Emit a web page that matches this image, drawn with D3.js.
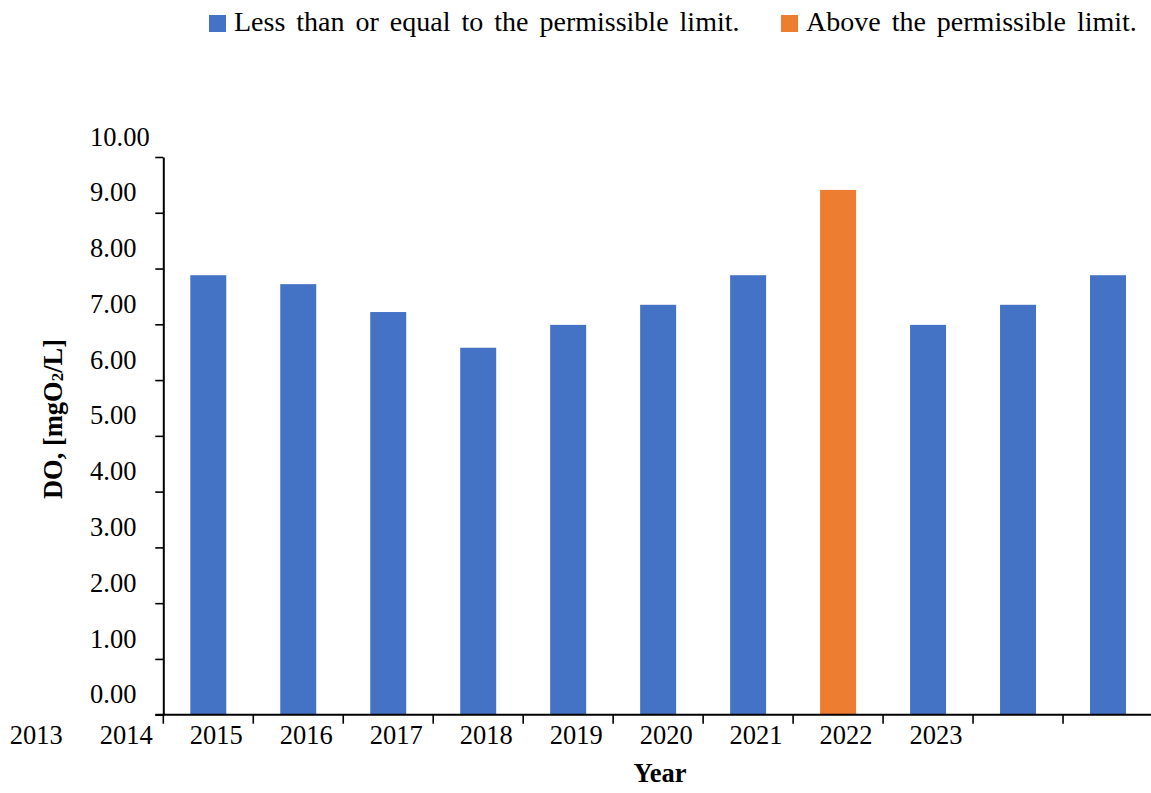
<!DOCTYPE html>
<html>
<head>
<meta charset="utf-8">
<script src="https://cdn.jsdelivr.net/npm/d3@7/dist/d3.min.js"></script>
<style>
  html, body { margin: 0; padding: 0; background: #fff; }
  svg { display: block; }
  text { font-family: "Liberation Serif", "DejaVu Serif", serif; fill: #000; }
</style>
</head>
<body>
<svg id="chart" width="1151" height="793"></svg>
<script>
// Dissolved oxygen per year (mg O2/L)
const years = ["2013", "2014", "2015", "2016", "2017", "2018", "2019", "2020", "2021", "2022", "2023"];
const doValues = [7.88, 7.72, 7.22, 6.58, 6.99, 7.35, 7.88, 9.41, 6.99, 7.35, 7.88];
const aboveLimit = [false, false, false, false, false, false, false, true, false, false, false];

// Axis tick labels
const yearTickLabels = ["2013", "2014", "2015", "2016", "2017", "2018", "2019", "2020", "2021", "2022", "2023"];
const yTickValues = [0, 1, 2, 3, 4, 5, 6, 7, 8, 9, 10];

// Legend
const legendLabels = ["Less than or equal to the permissible limit.", "Above the permissible limit."];
const legendColors = ["#4472C4", "#ED7D31"];

const svg = d3.select("#chart");
const plotLeft = 163.3, plotRight = 1153, plotTop = 157, plotBottom = 714.7;

const x = d3.scaleBand().domain(years).range([plotLeft, plotRight]).paddingInner(0.6).paddingOuter(0.3);
const y = d3.scaleLinear().domain([0, 10]).range([plotBottom, plotTop]);
const bw = x.step();

// Bars
svg.append("g").selectAll("rect")
  .data(years)
  .join("rect")
  .attr("x", d => x(d))
  .attr("width", x.bandwidth())
  .attr("y", (d, i) => y(doValues[i]))
  .attr("height", (d, i) => y(0) - y(doValues[i]))
  .attr("fill", (d, i) => aboveLimit[i] ? legendColors[1] : legendColors[0]);

// Y axis (labels left-aligned in a column)
const yAxis = svg.append("g")
  .attr("transform", `translate(${plotLeft},0)`)
  .call(d3.axisLeft(y).tickValues(yTickValues).tickFormat(d3.format(".2f")).tickSize(8).tickSizeOuter(0));
yAxis.select(".domain").attr("stroke", "#000").attr("stroke-width", 2);
yAxis.selectAll(".tick line").attr("stroke", "#000").attr("stroke-width", 1.6);
yAxis.selectAll(".tick text")
  .attr("x", 90 - plotLeft)
  .attr("text-anchor", "start")
  .attr("font-size", 26.5)
  .attr("font-family", "Liberation Serif")
  .attr("dy", "-0.45em")
  .attr("fill", "#000");

// X axis line with tick marks at band boundaries
const xAxis = svg.append("g")
  .attr("transform", `translate(0,${plotBottom})`)
  .call(d3.axisBottom(x).tickSize(0).tickFormat(""));
xAxis.select(".domain").attr("stroke", "#000").attr("stroke-width", 2)
  .attr("d", `M${plotLeft - 8},0H${plotRight}`);
xAxis.selectAll(".tick").remove();
xAxis.selectAll("line.bnd")
  .data(d3.range(years.length + 1))
  .join("line")
  .attr("class", "bnd")
  .attr("x1", i => plotLeft + i * bw)
  .attr("x2", i => plotLeft + i * bw)
  .attr("y1", 0)
  .attr("y2", 9)
  .attr("stroke", "#000")
  .attr("stroke-width", 1.6);

// Year labels, drawn with their own band scale
const xl = d3.scaleBand().domain(yearTickLabels).range([plotLeft - 2 * bw + 8, plotRight - 2 * bw + 8]);
const xLabelAxis = svg.append("g")
  .attr("transform", `translate(0,${plotBottom})`)
  .call(d3.axisBottom(xl).tickSize(0).tickPadding(10));
xLabelAxis.select(".domain").remove();
xLabelAxis.selectAll(".tick text")
  .attr("font-size", 26.5)
  .attr("font-family", "Liberation Serif")
  .attr("fill", "#000");

// Axis titles
svg.append("text")
  .attr("x", 660).attr("y", 782)
  .attr("text-anchor", "middle")
  .attr("font-size", 26.5)
  .attr("font-weight", "bold")
  .text("Year");

const yTitle = svg.append("text")
  .attr("transform", "translate(62,419) rotate(-90)")
  .attr("text-anchor", "middle")
  .attr("font-size", 26.5)
  .attr("font-weight", "bold");
yTitle.append("tspan").text("DO, [mgO");
yTitle.append("tspan").attr("font-size", 17).attr("dy", 1).text("2");
yTitle.append("tspan").attr("dy", -1).text("/L]");

// Legend
const legendX = [209, 781];
const lg = svg.append("g").selectAll("g")
  .data(legendLabels)
  .join("g")
  .attr("transform", (d, i) => `translate(${legendX[i]},0)`);
lg.append("rect")
  .attr("x", 0).attr("y", 15).attr("width", 17).attr("height", 17)
  .attr("fill", (d, i) => legendColors[i]);
lg.append("text")
  .attr("x", 25).attr("y", 31)
  .attr("font-size", 28)
  .attr("word-spacing", 4)
  .text(d => d);
</script>
</body>
</html>
